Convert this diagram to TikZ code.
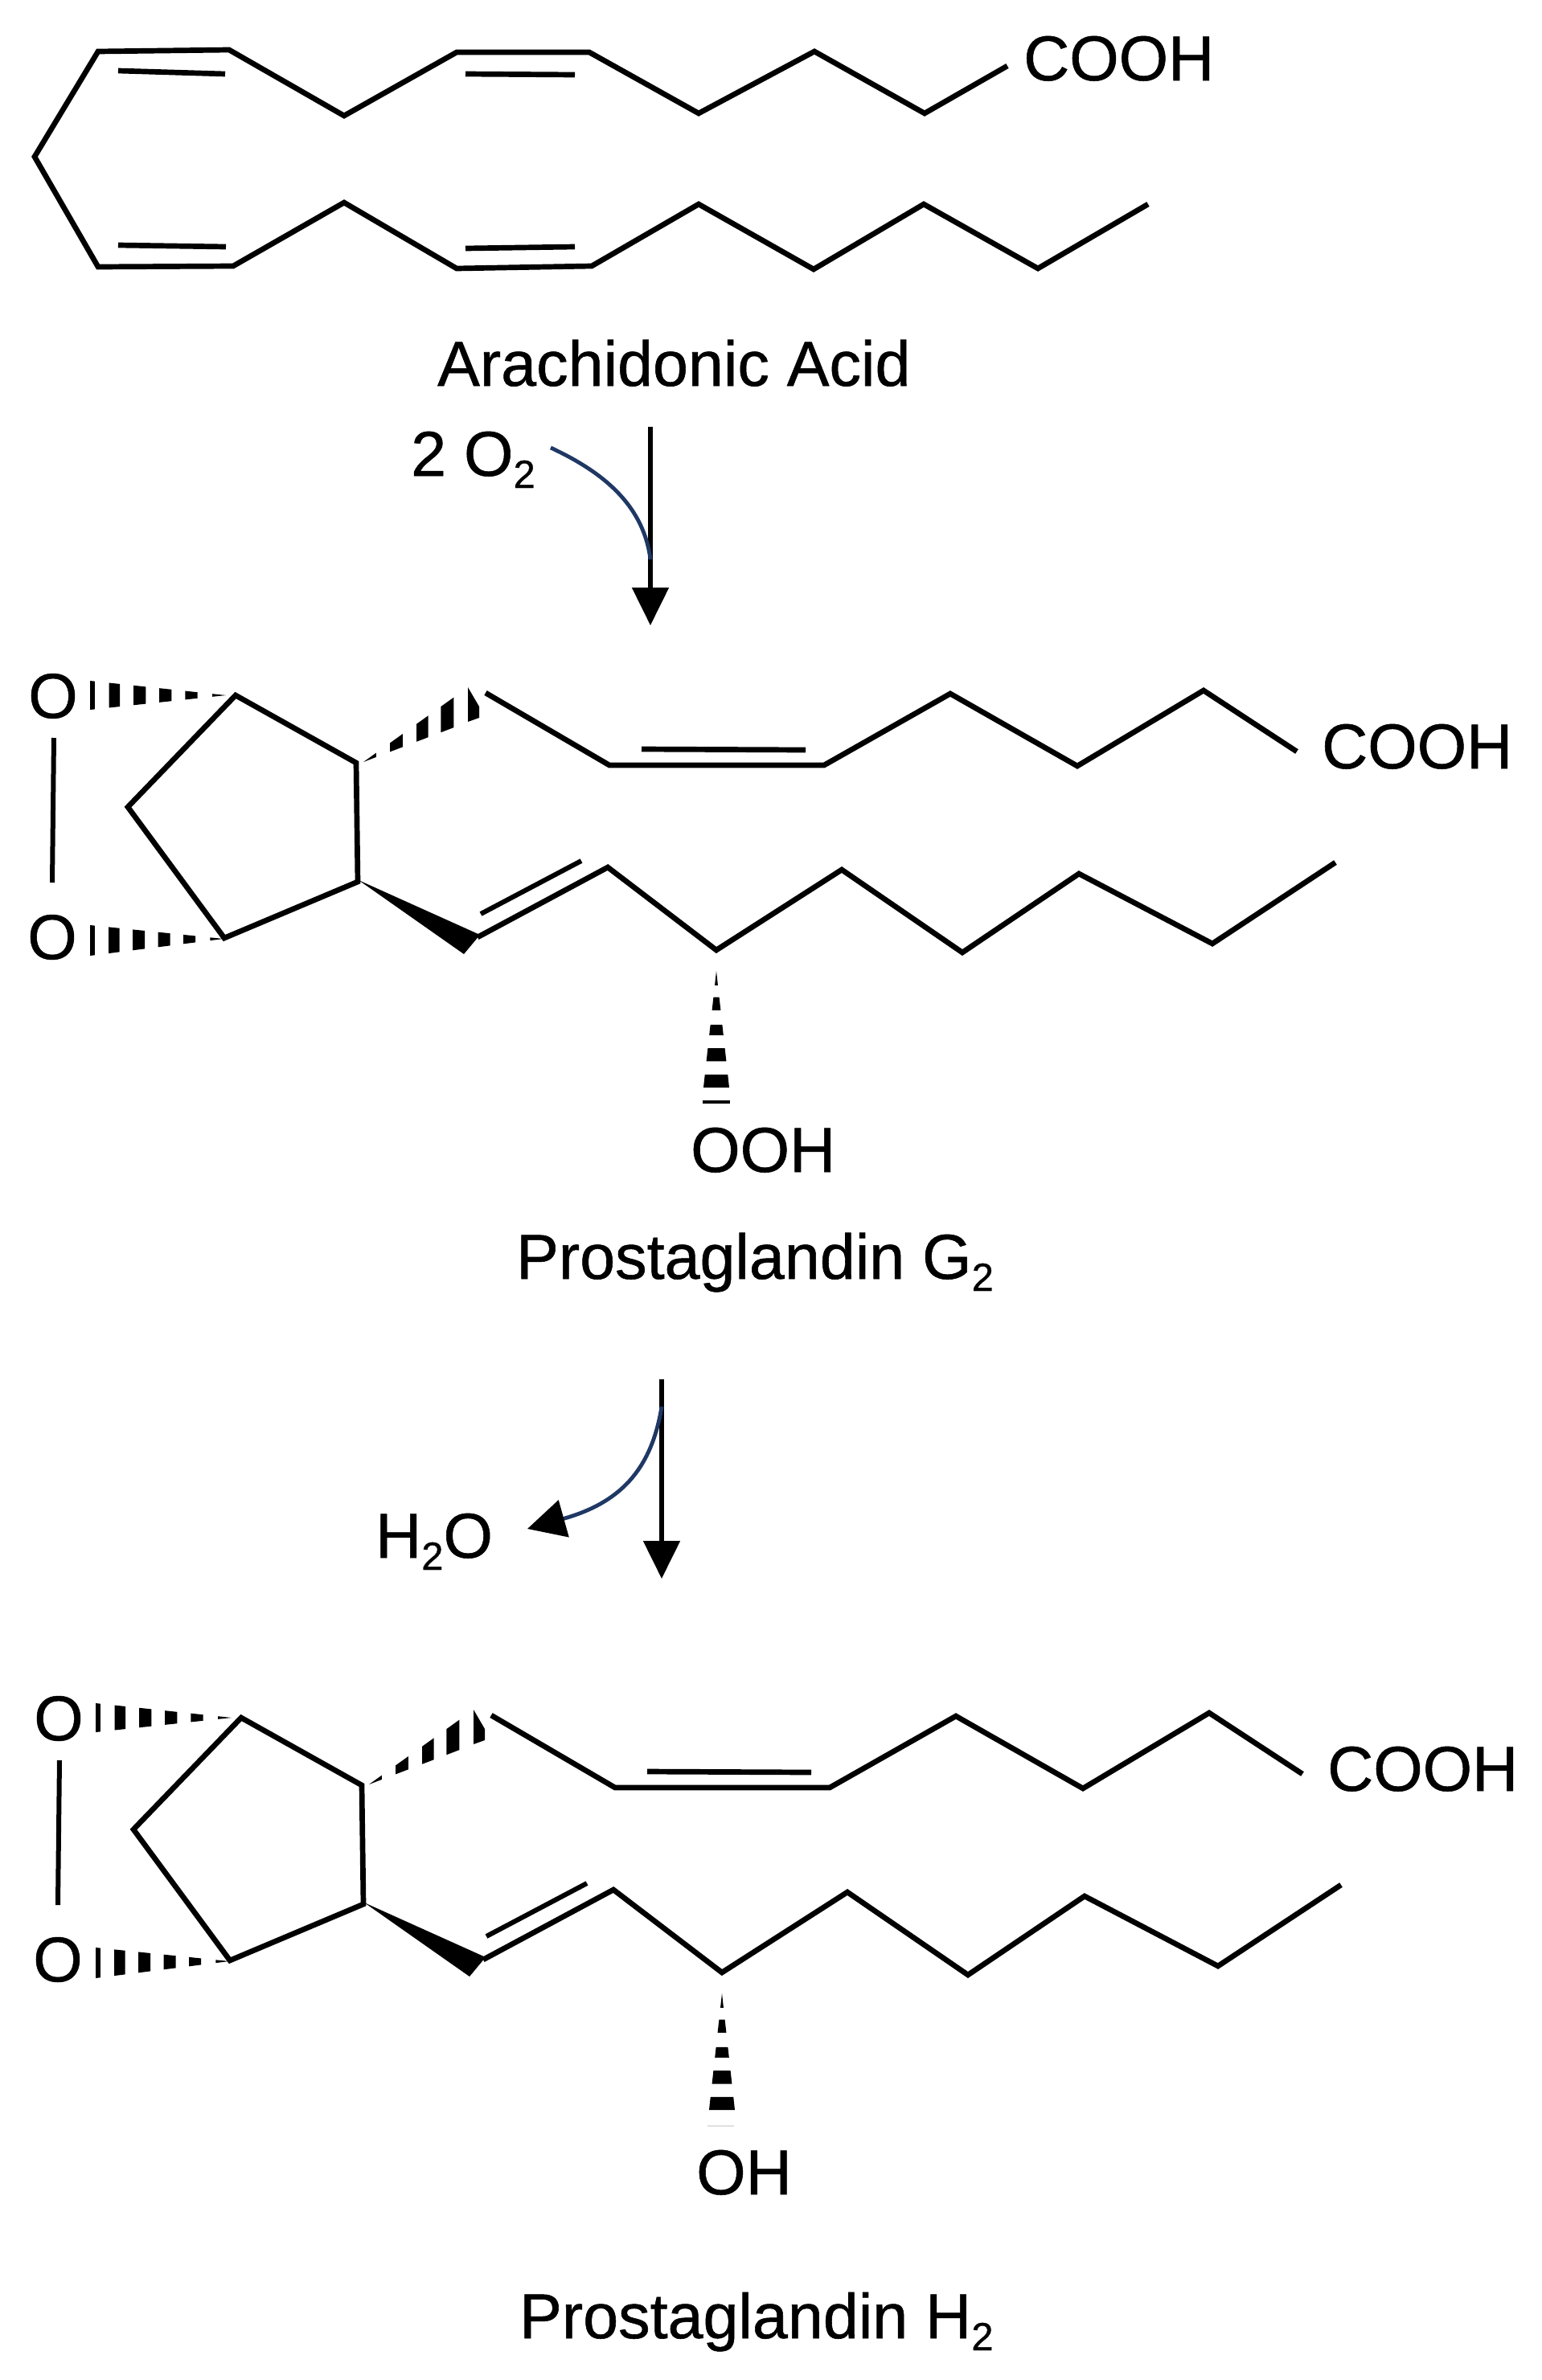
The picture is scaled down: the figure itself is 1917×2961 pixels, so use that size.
\documentclass[tikz,border=0pt]{standalone}
\usepackage{fontspec}
\setmainfont{Liberation Sans}[RawFeature={embolden=0.7}]
\usetikzlibrary{calc,arrows.meta}
\definecolor{curveblue}{HTML}{1F3864}
\newcommand\labfont{\fontsize{79}{90}\selectfont}
\newcommand\subt[1]{\raisebox{-0.19em}{\fontsize{49}{50}\selectfont #1}}
\tikzset{
  bond/.style={line width=6.7pt,line join=miter,miter limit=3},
  bondthin/.style={line width=6pt},
  lab/.style={inner sep=0pt,anchor=base west,font=\labfont},
  mainarrow/.style={line width=5.2pt,-{Triangle[length=47pt,width=45pt]}},
  sidearrow/.style={line width=4.8pt,curveblue},
}
% hashed wedge: tip, edge end 1, edge end 2, list of t-ranges
\newcommand\hashw[4]{%
  \foreach \ta/\tb in {#4} {%
    \fill ($(#1)!\ta!(#2)$) -- ($(#1)!\tb!(#2)$)
       -- ($(#1)!\tb!(#3)$) -- ($(#1)!\ta!(#3)$) -- cycle;
  }%
}
% prostaglandin skeleton; #1 = prefix, #2 = shift
\newcommand\prosta[2]{%
\begin{scope}[shift={#2}]
  \coordinate (#1a) at (293,865);
  \coordinate (#1b) at (443,949);
  \coordinate (#1c) at (445,1097);
  \coordinate (#1d) at (279,1167);
  \coordinate (#1e) at (159,1004);
  \coordinate (#1u0) at (604,862);
  \coordinate (#1u1) at (758,952);
  \coordinate (#1u2) at (1025,952);
  \coordinate (#1u3) at (1182,863);
  \coordinate (#1u4) at (1340,953);
  \coordinate (#1u5) at (1497,859);
  \coordinate (#1u6) at (1613,935);
  \coordinate (#1ui) at (798,932);
  \coordinate (#1uj) at (1002,933);
  \coordinate (#1l0) at (594,1166);
  \coordinate (#1l1) at (756,1079);
  \coordinate (#1l2) at (891,1182);
  \coordinate (#1l3) at (1047,1082);
  \coordinate (#1l4) at (1197,1185);
  \coordinate (#1l5) at (1342,1087);
  \coordinate (#1l6) at (1508,1174);
  \coordinate (#1l7) at (1661,1073);
  \coordinate (#1li) at (598,1137);
  \coordinate (#1lj) at (723,1071);
  \coordinate (#1wt) at (446,1095);
  \coordinate (#1w1) at (577,1187);
  \coordinate (#1w2) at (597,1163);
  \coordinate (#1oa) at (281,865);
  \coordinate (#1ob) at (112,847);
  \coordinate (#1oc) at (112,883);
  \coordinate (#1pt) at (278,1168);
  \coordinate (#1pu) at (112,1151);
  \coordinate (#1pv) at (112,1189);
  \coordinate (#1ha) at (452,948);
  \coordinate (#1hu) at (596,845);
  \coordinate (#1hl) at (596,893);
  \coordinate (#1c1) at (582,855);
  \coordinate (#1c2) at (596,879);
  \coordinate (#1c3) at (596,893);
  \coordinate (#1c4) at (582,898);
  \coordinate (#1da) at (891,1208);
  \coordinate (#1du) at (873,1371);
  \coordinate (#1dv) at (909,1371);
  \coordinate (#1pa) at (67,918);
  \coordinate (#1pb) at (65,1098);
  \node[lab,anchor=center] (#1o1) at (66,866) {O};
  \node[lab,anchor=center] (#1o2) at (65,1166) {O};
  \node[lab] (#1cooh) at (1644,956) {COOH};
  \draw[bond] (#1a) -- (#1b) -- (#1c) -- (#1d) -- (#1e) -- cycle;
  \draw[bondthin] (#1pa) -- (#1pb);
  \draw[bond] (#1u0) -- (#1u1) -- (#1u2) -- (#1u3) -- (#1u4) -- (#1u5) -- (#1u6);
  \draw[bond] (#1ui) -- (#1uj);
  \draw[bond] (#1l0) -- (#1l1) -- (#1l2) -- (#1l3) -- (#1l4) -- (#1l5) -- (#1l6) -- (#1l7);
  \draw[bondthin] (#1li) -- (#1lj);
  \fill (#1wt) -- (#1w1) -- (#1w2) -- cycle;
  \hashw{#1oa}{#1ob}{#1oc}{0/.1,.21/.3,.4/.49,.59/.68,.78/.86,.965/1}
  \hashw{#1pt}{#1pu}{#1pv}{0/.1,.21/.3,.4/.49,.59/.68,.78/.86,.965/1}
  \hashw{#1ha}{#1hu}{#1hl}{0/.11,.23/.34,.46/.56,.67/.78}
  \fill (#1c1) -- (#1c2) -- (#1c3) -- (#1c4) -- cycle;
  \hashw{#1da}{#1du}{#1dv}{0/.11,.2/.3,.41/.49,.59/.69,.79/.89}
\end{scope}}
\begin{document}
\begin{tikzpicture}[x=1pt,y=-1pt]
\useasboundingbox (0,0) rectangle (1917,2961);
\fill[white] (0,0) rectangle (1917,2961);
% Arachidonic acid
\foreach \n/\p in {t0/{43,195},t1/{122,64},t2/{285,62},t3/{428,144},t4/{568,65},t5/{733,65},t6/{869,141},t7/{1013,64},t8/{1150,141},t9/{1253,82},
  b1/{122,332},b2/{290,331},b3/{428,252},b4/{568,334},b5/{736,331},b6/{869,254},b7/{1012,335},b8/{1149,254},b9/{1291,334},b10/{1428,254},
  i1/{147,88},i2/{280,92},i3/{579,92},i4/{715,93},i5/{147,305},i6/{281,307},i7/{579,309},i8/{715,307}}
  {\coordinate (\n) at (\p);}
\draw[bond] (t9) -- (t8) -- (t7) -- (t6) -- (t5) -- (t4) -- (t3) -- (t2) -- (t1) -- (t0)
  -- (b1) -- (b2) -- (b3) -- (b4) -- (b5) -- (b6) -- (b7) -- (b8) -- (b9) -- (b10);
\draw[bond] (i1) -- (i2);
\draw[bond] (i3) -- (i4);
\draw[bond] (i5) -- (i6);
\draw[bond] (i7) -- (i8);
\node[lab] (coohtop) at (1273,100) {COOH};
\node[lab] (aa) at (544,480) {Arachidonic Acid};
\node[lab] (otwo) at (511,592) {2 O\subt{2}};
% first arrow
\coordinate (a1s) at (809,531);
\coordinate (a1e) at (809,778);
\coordinate (a1c) at (685,557);
\coordinate (a1m) at (809,696);
\draw[mainarrow] (a1s) -- (a1e);
\draw[sidearrow] (a1c) .. controls (745,585) and (800,625) .. (a1m);
% prostaglandin G2
\prosta{g}{(0,0)}
\coordinate (gb1) at (874,1371);
\coordinate (gb2) at (908,1371);
\draw[line width=3.4pt] (gb1) -- (gb2);
\node[lab] (ooh) at (859,1458) {OOH};
\node[lab] (pg) at (642,1591) {Prostaglandin G\subt{2}};
% second arrow
\coordinate (a2s) at (823,1716);
\coordinate (a2e) at (823,1964);
\coordinate (a2c) at (823,1750);
\coordinate (a2t) at (656,1902);
\draw[mainarrow] (a2s) -- (a2e);
\draw[sidearrow,-{Triangle[color=black,length=47pt,width=47pt]}] (a2c) .. controls (810,1830) and (770,1870) .. (a2t);
\node[lab] (water) at (467,1938) {H\subt{2}O};
% prostaglandin H2
\prosta{h}{(7,1272)}
\coordinate (hb1) at (880,2645);
\coordinate (hb2) at (913,2645);
\draw[line width=2pt,black!12] (hb1) -- (hb2);
\node[lab] (oh) at (866,2730) {OH};
\node[lab] (ph) at (646,2909) {Prostaglandin H\subt{2}};
\end{tikzpicture}
\end{document}
